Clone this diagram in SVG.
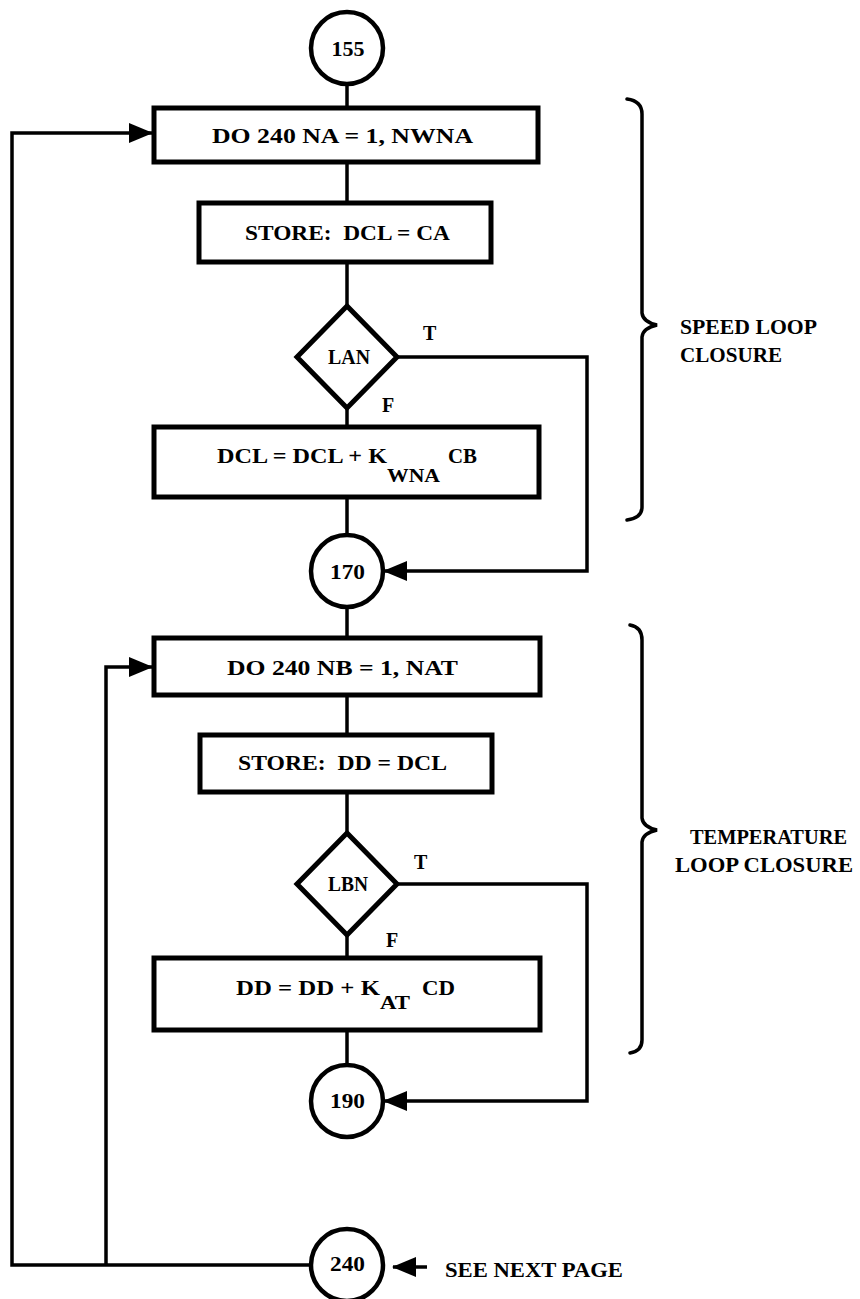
<svg xmlns="http://www.w3.org/2000/svg" width="860" height="1299" viewBox="0 0 860 1299">
<defs>
<marker id="ah" markerWidth="24" markerHeight="22" refX="23" refY="11" orient="auto" markerUnits="userSpaceOnUse">
<path d="M0,1 L24,11 L0,21 Z" fill="#000"/>
</marker>
<style>
.box{fill:#fff;stroke:#000;stroke-width:5}
.circ{fill:#fff;stroke:#000;stroke-width:4.5}
.dia{fill:#fff;stroke:#000;stroke-width:5;stroke-linejoin:miter}
.ln{fill:none;stroke:#000;stroke-width:3.5}
.br{fill:none;stroke:#000;stroke-width:3.5;stroke-linecap:round}
text{font-family:"Liberation Serif","DejaVu Serif",serif;font-weight:bold;fill:#000;font-size:21px}
.c{text-anchor:middle}
.sub{font-size:18px}
.lab{font-size:20px}
</style>
</defs>
<rect width="860" height="1299" fill="#fff"/>
<g id="connectors">
<line class="ln" x1="347" y1="84" x2="347" y2="108"/>
<line class="ln" x1="347" y1="162" x2="347" y2="203"/>
<line class="ln" x1="347" y1="262" x2="347" y2="306"/>
<line class="ln" x1="347" y1="408" x2="347" y2="427"/>
<line class="ln" x1="347" y1="497" x2="347" y2="535"/>
<polyline class="ln" points="397,357 587,357 587,571 384,571" marker-end="url(#ah)"/>
<line class="ln" x1="347" y1="607" x2="347" y2="638"/>
<line class="ln" x1="347" y1="695" x2="347" y2="735"/>
<line class="ln" x1="347" y1="792" x2="347" y2="833"/>
<line class="ln" x1="347" y1="935" x2="347" y2="958"/>
<line class="ln" x1="347" y1="1030" x2="347" y2="1064"/>
<polyline class="ln" points="397,884 587,884 587,1101 384,1101" marker-end="url(#ah)"/>
<polyline class="ln" points="311,1265 12,1265 12,133 152,133" marker-end="url(#ah)"/>
<polyline class="ln" points="106,1265 106,667 152,667" marker-end="url(#ah)"/>
<line class="ln" x1="427" y1="1267" x2="393" y2="1267" marker-end="url(#ah)"/>
</g>
<g id="n155"><circle class="circ" cx="347" cy="48" r="36"/><text class="c" x="348" y="56" textLength="33" lengthAdjust="spacingAndGlyphs">155</text></g>
<g id="do-na"><rect class="box" x="154" y="108" width="384" height="54"/><text x="212" y="143" textLength="261" lengthAdjust="spacingAndGlyphs">DO 240 NA = 1, NWNA</text></g>
<g id="store-dcl"><rect class="box" x="199" y="203" width="292" height="59"/><text x="245" y="240" textLength="205" lengthAdjust="spacingAndGlyphs" xml:space="preserve">STORE:  DCL = CA</text></g>
<g id="lan"><polygon class="dia" points="347,306 397,357 347,408 297,357"/><text x="328" y="364" textLength="42" lengthAdjust="spacingAndGlyphs" style="font-size:20px">LAN</text></g>
<text class="lab" x="423" y="340">T</text>
<text class="lab" x="382" y="412">F</text>
<g id="dcl-upd"><rect class="box" x="154" y="427" width="385" height="70"/>
<text x="217" y="463" textLength="170" lengthAdjust="spacingAndGlyphs">DCL = DCL + K</text>
<text class="sub" x="387" y="482" textLength="53" lengthAdjust="spacingAndGlyphs">WNA</text>
<text x="448" y="463" textLength="29" lengthAdjust="spacingAndGlyphs">CB</text></g>
<g id="n170"><circle class="circ" cx="347" cy="571" r="36"/><text x="330" y="579" textLength="35" lengthAdjust="spacingAndGlyphs">170</text></g>
<g id="do-nb"><rect class="box" x="154" y="638" width="386" height="57"/><text x="227" y="675" textLength="231" lengthAdjust="spacingAndGlyphs">DO 240 NB = 1, NAT</text></g>
<g id="store-dd"><rect class="box" x="200" y="735" width="292" height="57"/><text x="238" y="770" textLength="209" lengthAdjust="spacingAndGlyphs" xml:space="preserve">STORE:  DD = DCL</text></g>
<g id="lbn"><polygon class="dia" points="347,833 397,884 347,935 297,884"/><text x="328" y="891" textLength="40" lengthAdjust="spacingAndGlyphs" style="font-size:20px">LBN</text></g>
<text class="lab" x="414" y="869">T</text>
<text class="lab" x="386" y="947">F</text>
<g id="dd-upd"><rect class="box" x="154" y="958" width="386" height="72"/>
<text x="236" y="995" textLength="144" lengthAdjust="spacingAndGlyphs">DD = DD + K</text>
<text class="sub" x="380" y="1009" textLength="30" lengthAdjust="spacingAndGlyphs">AT</text>
<text x="422" y="995" textLength="33" lengthAdjust="spacingAndGlyphs">CD</text></g>
<g id="n190"><circle class="circ" cx="347" cy="1101" r="36"/><text x="330" y="1108" textLength="35" lengthAdjust="spacingAndGlyphs">190</text></g>
<g id="n240"><circle class="circ" cx="347" cy="1265" r="36"/><text x="330" y="1271" textLength="35" lengthAdjust="spacingAndGlyphs">240</text></g>
<text x="445" y="1277" style="font-size:20px" textLength="178" lengthAdjust="spacingAndGlyphs">SEE NEXT PAGE</text>
<g id="speed-brace">
<path class="br" d="M627,99 Q642,101 642,114 L642,313 Q643,322 657,325 Q643,328 642,337 L642,507 Q642,518 627,520"/>
<text x="680" y="334" style="font-size:20px" textLength="137" lengthAdjust="spacingAndGlyphs">SPEED LOOP</text>
<text x="680" y="362" style="font-size:20px" textLength="102" lengthAdjust="spacingAndGlyphs">CLOSURE</text>
</g>
<g id="temp-brace">
<path class="br" d="M630,625 Q642,627 642,640 L642,818 Q643,827 657,830 Q643,833 642,842 L642,1040 Q642,1051 630,1053"/>
<text x="690" y="844" style="font-size:20px" textLength="157" lengthAdjust="spacingAndGlyphs">TEMPERATURE</text>
<text x="675" y="872" style="font-size:20px" textLength="178" lengthAdjust="spacingAndGlyphs">LOOP CLOSURE</text>
</g>
</svg>
